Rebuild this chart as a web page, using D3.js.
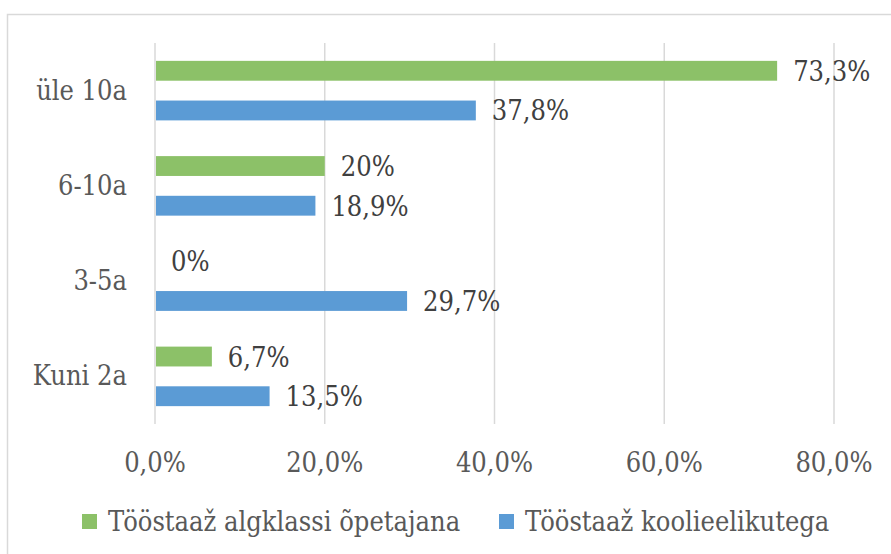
<!DOCTYPE html>
<html>
<head>
<meta charset="utf-8">
<script src="https://cdn.jsdelivr.net/npm/d3@7"></script>
<style>
  body { margin: 0; background: #fff; }
  svg text { font-stretch: condensed; }
</style>
</head>
<body>
<svg id="chart"></svg>
<script>
// categories, top to bottom
var categories = ["üle 10a", "6-10a", "3-5a", "Kuni 2a"];
var series = ["Tööstaaž algklassi õpetajana", "Tööstaaž koolieelikutega"];
var algklass = [73.3, 20, 0, 6.7];
var koolieel = [37.8, 18.9, 29.7, 13.5];
var labelsAlg = ["73,3%", "20%", "0%", "6,7%"];
var labelsKool = ["37,8%", "18,9%", "29,7%", "13,5%"];
var ticks = [0, 20, 40, 60, 80];
var colors = ["#8cc168", "#5b9bd5"];

var width = 891, height = 554;
var margin = {top: 43, right: 57, bottom: 130, left: 155};
var fontSize = "27px";
// Times-like serif isn't available, DejaVu Serif is the closest
var fontFam = "'DejaVu Serif Condensed', 'DejaVu Serif', serif";

var svg = d3.select("#chart")
    .attr("width", width)
    .attr("height", height)
    .attr("font-family", fontFam);

// outer chart border
svg.append("rect")
    .attr("x", 7.5).attr("y", 14.5)
    .attr("width", width + 10).attr("height", height + 10)
    .attr("fill", "none")
    .attr("stroke", "#d9d9d9")
    .attr("stroke-width", 1.5);

var x = d3.scaleLinear()
    .domain([0, 80])
    .range([margin.left, width - margin.right]);

var y = d3.scaleBand()
    .domain(categories)
    .range([margin.top, height - margin.bottom]);

var yInner = d3.scaleBand()
    .domain(series)
    .range([0, y.bandwidth()])
    .paddingInner(0.5)
    .paddingOuter(0.45);

// gridlines
svg.append("g")
    .selectAll("line")
    .data(ticks)
    .enter()
    .append("line")
    .attr("x1", d => x(d)).attr("x2", d => x(d))
    .attr("y1", margin.top).attr("y2", height - margin.bottom)
    .attr("stroke", "#d9d9d9")
    .attr("stroke-width", 1.5);

// x tick labels
svg.append("g")
    .selectAll("text")
    .data(ticks)
    .enter()
    .append("text")
    .attr("x", d => x(d))
    .attr("y", 472)
    .attr("text-anchor", "middle")
    .attr("fill", "#595959")
    .attr("font-size", fontSize)
    .text(d => d3.format(".1f")(d).replace(".", ",") + "%");

// category labels
svg.append("g")
    .selectAll("text")
    .data(categories)
    .enter()
    .append("text")
    .attr("x", 127)
    .attr("y", d => y(d) + y.bandwidth() / 2 + 9)
    .attr("text-anchor", "end")
    .attr("fill", "#595959")
    .attr("font-size", fontSize)
    .text(d => d);

var rows = categories.map(function(c, i) {
    return [
        {cat: c, s: series[0], v: algklass[i], lab: labelsAlg[i], col: colors[0]},
        {cat: c, s: series[1], v: koolieel[i], lab: labelsKool[i], col: colors[1]}
    ];
}).flat();

// bars
svg.append("g")
    .selectAll("rect")
    .data(rows)
    .enter()
    .append("rect")
    .attr("x", x(0) + 1)
    .attr("y", d => y(d.cat) + yInner(d.s))
    .attr("width", d => Math.max(0, x(d.v) - x(0) - 1))
    .attr("height", yInner.bandwidth())
    .attr("fill", d => d.col);

// data labels
svg.append("g")
    .selectAll("text")
    .data(rows)
    .enter()
    .append("text")
    .attr("x", d => x(d.v) + 16)
    .attr("y", d => y(d.cat) + yInner(d.s) + yInner.bandwidth() / 2 + 10)
    .attr("fill", "#404040")
    .attr("font-size", fontSize)
    .text(d => d.lab);

// legend
var legendX = [82, 499];
var leg = svg.append("g")
    .selectAll("g")
    .data(series)
    .enter()
    .append("g")
    .attr("transform", (d, i) => `translate(${legendX[i]}, 514)`);
leg.append("rect")
    .attr("width", 15).attr("height", 15)
    .attr("fill", (d, i) => colors[i]);
leg.append("text")
    .attr("x", 26).attr("y", 17)
    .attr("fill", "#595959")
    .attr("font-size", fontSize)
    .text(d => d);
</script>
</body>
</html>
